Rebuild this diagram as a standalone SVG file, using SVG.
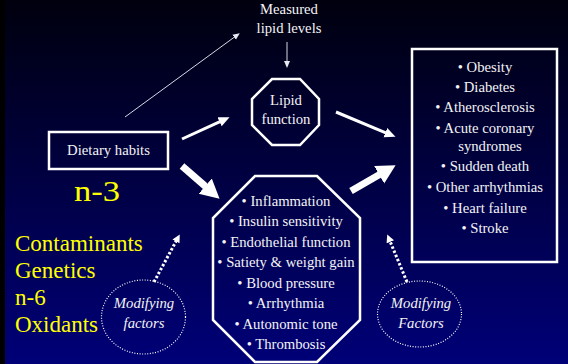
<svg xmlns="http://www.w3.org/2000/svg" width="568" height="364" viewBox="0 0 568 364" font-family="'Liberation Serif', 'Times New Roman', serif">
  <defs>
    <linearGradient id="bg" x1="0" y1="0" x2="0" y2="1">
      <stop offset="0" stop-color="#00000e"/>
      <stop offset="1" stop-color="#000078"/>
    </linearGradient>
    <marker id="headBig" markerUnits="userSpaceOnUse" markerWidth="20" markerHeight="22" viewBox="0 -11 20 22" refX="0.5" refY="0" orient="auto">
      <path d="M0,-10 L19,0 L0,10 Z" fill="#fff"/>
    </marker>
    <marker id="headMid" markerUnits="userSpaceOnUse" markerWidth="12" markerHeight="12" viewBox="0 -6 12 12" refX="0.5" refY="0" orient="auto">
      <path d="M0,-5 L11,0 L0,5 Z" fill="#fff"/>
    </marker>
    <marker id="headThin" markerUnits="userSpaceOnUse" markerWidth="8" markerHeight="8" viewBox="0 -4 8 8" refX="0.5" refY="0" orient="auto">
      <path d="M0,-3 L7,0 L0,3 Z" fill="#e8e8f0"/>
    </marker>
    <marker id="headDot" markerUnits="userSpaceOnUse" markerWidth="10" markerHeight="10" viewBox="0 -5 10 10" refX="0.5" refY="0" orient="auto">
      <path d="M0,-4 L8,0 L0,4 Z" fill="#fff"/>
    </marker>
  </defs>
  <style>
    .t { font-size: 14.7px; fill: #f4f4f4; text-anchor: middle; }
    .it { font-style: italic; }
    .y { fill: #ffff00; }
    .box { fill: none; stroke: #fff; stroke-width: 2.5; }
    .oval { fill: none; stroke: #fff; stroke-width: 1.2; stroke-dasharray: 1 1.6; }
    .big { stroke: #fff; stroke-width: 7; fill: none; marker-end: url(#headBig); }
    .mid { stroke: #fff; stroke-width: 3; fill: none; marker-end: url(#headMid); }
    .thin { stroke: #d8d8e4; stroke-width: 1; fill: none; marker-end: url(#headThin); }
    .dot { stroke: #fff; stroke-width: 3; fill: none; stroke-dasharray: 2.5 2; marker-end: url(#headDot); }
  </style>

  <!-- background -->
  <rect x="0" y="0" width="568" height="364" fill="url(#bg)"/>
  <rect x="0" y="0" width="5" height="364" fill="#000"/>

  <!-- connectors -->
  <g id="connectors">
    <line class="thin" x1="125" y1="117" x2="234.5" y2="37"/>
    <line class="thin" x1="287" y1="42" x2="287" y2="61.5"/>
    <line class="mid" x1="182" y1="139" x2="220" y2="121.6"/>
    <line class="mid" x1="336" y1="112" x2="385.8" y2="132.8"/>
    <line class="big" x1="182" y1="166" x2="205.6" y2="186.5"/>
    <line class="big" x1="351" y1="191" x2="379.6" y2="174.5"/>
    <line class="dot" x1="154" y1="282" x2="176.2" y2="241"/>
    <line class="dot" x1="407" y1="282" x2="390.1" y2="241.4"/>
  </g>

  <!-- measured lipid levels -->
  <g id="measured">
    <text class="t" x="289" y="14">Measured</text>
    <text class="t" x="289" y="33">lipid levels</text>
  </g>

  <!-- dietary habits -->
  <g id="dietary">
    <rect class="box" x="49" y="132" width="119" height="37"/>
    <text class="t" x="108.5" y="155">Dietary habits</text>
  </g>

  <!-- n-3 -->
  <g id="n3">
    <text class="y" x="74" y="201" font-size="29" textLength="46" lengthAdjust="spacingAndGlyphs">n-3</text>
  </g>

  <!-- modifying factor list -->
  <g id="factors">
    <text class="y" x="15" y="251" font-size="23">Contaminants</text>
    <text class="y" x="15" y="278" font-size="23">Genetics</text>
    <text class="y" x="15" y="305" font-size="23">n-6</text>
    <text class="y" x="15" y="332" font-size="23">Oxidants</text>
  </g>

  <!-- lipid function -->
  <g id="lipid">
    <polygon class="box" points="272,79 300,79 319,99 319,125 300,145 272,145 252,125 252,99"/>
    <text class="t" x="286" y="105">Lipid</text>
    <text class="t" x="286" y="124">function</text>
  </g>

  <!-- mechanisms -->
  <g id="mechanisms">
    <polygon class="box" points="255,176 317,176 360,218 360,320 317,362 255,362 213,320 213,218"/>
    <text class="t" x="286" y="206">• Inflammation</text>
    <text class="t" x="286" y="226">• Insulin sensitivity</text>
    <text class="t" x="286" y="247">• Endothelial function</text>
    <text class="t" x="286" y="267">• Satiety &amp; weight gain</text>
    <text class="t" x="286" y="288">• Blood pressure</text>
    <text class="t" x="286" y="308">• Arrhythmia</text>
    <text class="t" x="286" y="329">• Autonomic tone</text>
    <text class="t" x="286" y="349">• Thrombosis</text>
  </g>

  <!-- outcomes -->
  <g id="outcomes">
    <rect class="box" x="412" y="49" width="145" height="213"/>
    <text class="t" x="485" y="72">• Obesity</text>
    <text class="t" x="485" y="92">• Diabetes</text>
    <text class="t" x="485" y="112">• Atherosclerosis</text>
    <text class="t" x="485" y="133">• Acute coronary</text>
    <text class="t" x="490" y="151">syndromes</text>
    <text class="t" x="485" y="171">• Sudden death</text>
    <text class="t" x="485" y="192">• Other arrhythmias</text>
    <text class="t" x="485" y="213">• Heart failure</text>
    <text class="t" x="485" y="233">• Stroke</text>
  </g>

  <!-- modifying factors, left -->
  <g id="modLeft">
    <ellipse class="oval" cx="143.5" cy="317" rx="42" ry="37"/>
    <text class="t it" x="144" y="308">Modifying</text>
    <text class="t it" x="144" y="328">factors</text>
  </g>

  <!-- modifying factors, right -->
  <g id="modRight">
    <ellipse class="oval" cx="419.5" cy="314" rx="42" ry="33"/>
    <text class="t it" x="421" y="308">Modifying</text>
    <text class="t it" x="421" y="328">Factors</text>
  </g>
</svg>
